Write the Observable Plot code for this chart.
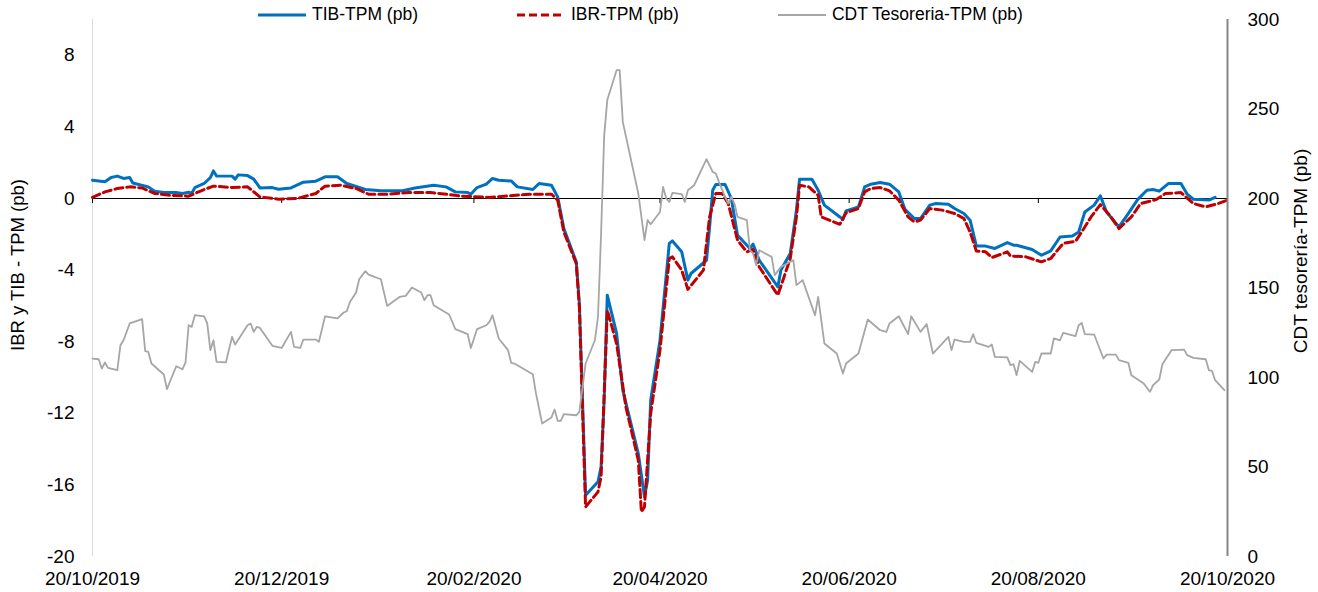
<!DOCTYPE html>
<html><head><meta charset="utf-8">
<script src="https://cdn.jsdelivr.net/npm/d3@7"></script>
<script src="https://cdn.jsdelivr.net/npm/@observablehq/plot@0.6"></script>
<style>
body{margin:0;background:#fff;font-family:"Liberation Sans",Arial,sans-serif;}
#wrap{position:relative;width:1318px;height:592px;overflow:hidden;}
#legend{position:absolute;top:4px;left:258px;display:flex;align-items:center;gap:99px;font-size:17.5px;line-height:20px;color:#000;white-space:nowrap;}
.item{display:flex;align-items:center;gap:6px;}
.item svg{display:block;}
.ytitle{position:absolute;white-space:nowrap;transform:translate(-50%,-50%) rotate(-90deg);color:#000;}
</style></head><body>
<div id="wrap"><div id="chart"></div><div id="legend"></div><div class="ytitle" id="tl"></div><div class="ytitle" id="tr"></div></div>
<script>
// Days elapsed since 20/10/2019 and values (pb)
const tibDay = [0,4,6,8,10,12,13,18,20,23,27,29,31,32,33,36,38,39,40,45,46,47,50,52,54,58,60,64,68,72,75,79,82,88,93,100,104,110,114,117,121,122,124,127,129,131,135,137,142,144,148,150,152,156,157,159,163,164,165,166,169,171,176,178,179,180,183,186,187,190,192,193,198,199,200,201,204,206,208,212,213,215,221,222,225,227,228,232,234,236,241,242,243,247,249,251,254,257,260,262,265,267,270,272,276,278,281,283,285,288,291,295,297,298,303,306,309,312,316,318,320,323,325,327,331,334,337,340,342,344,347,351,353,355,360,362];
const tibVal = [1.02,0.93,1.17,1.25,1.12,1.17,0.87,0.65,0.41,0.33,0.33,0.28,0.35,0.28,0.61,0.84,1.17,1.54,1.26,1.25,1.08,1.32,1.28,1.08,0.59,0.61,0.52,0.59,0.91,0.97,1.21,1.21,0.84,0.50,0.43,0.43,0.59,0.74,0.65,0.37,0.33,0.24,0.61,0.80,1.12,1.02,0.98,0.65,0.50,0.84,0.74,0.09,-1.68,-3.54,-5.87,-16.58,-15.83,-14.99,-11.27,-5.40,-7.54,-10.71,-14.25,-16.67,-15.74,-11.27,-7.92,-2.51,-2.37,-2.98,-4.56,-4.19,-3.45,-1.59,0.46,0.78,0.78,0,-2.05,-2.79,-2.55,-3.45,-4.94,-4.0,-3.07,-0.65,1.08,1.08,0.46,-0.37,-1.03,-1.17,-0.69,-0.47,0.65,0.80,0.89,0.80,0.37,-0.61,-1.12,-1.12,-0.37,-0.28,-0.32,-0.56,-0.84,-1.21,-2.65,-2.66,-2.79,-2.46,-2.61,-2.61,-2.85,-3.17,-2.93,-2.15,-2.09,-1.87,-0.75,-0.37,0.15,-0.75,-1.59,-0.84,-0.06,0.46,0.50,0.41,0.84,0.84,0.24,-0.04,-0.09,0.06];

const ibrDay = [0,4,8,12,16,20,25,31,35,39,45,50,54,60,66,72,75,80,85,89,95,102,109,115,119,128,130,141,148,150,152,156,157,159,163,164,166,169,172,176,177,178,180,183,186,187,190,192,197,199,201,203,205,208,211,213,215,221,223,225,227,228,231,234,235,241,243,247,249,251,254,257,260,263,265,267,270,274,278,281,283,285,288,290,295,296,301,306,309,313,317,319,322,325,328,331,335,338,343,346,351,355,359,363,366];
const ibrVal = [0.06,0.37,0.56,0.65,0.59,0.28,0.18,0.13,0.43,0.69,0.61,0.65,0.09,-0.04,0,0.28,0.69,0.74,0.56,0.24,0.24,0.33,0.33,0.22,0.13,0.06,0.09,0.24,0.24,-0.09,-1.87,-3.63,-6.06,-17.23,-16.39,-15.55,-6.24,-8.10,-11.64,-14.62,-17.51,-17.23,-12.0,-8.47,-3.35,-3.26,-4.0,-5.08,-4.0,-1.03,0.28,0.28,-0.28,-2.33,-2.98,-2.85,-3.82,-5.40,-4.38,-3.35,-1.03,0.74,0.65,0.18,-1.03,-1.44,-0.80,-0.56,0.37,0.56,0.61,0.43,-0.09,-1.03,-1.31,-1.21,-0.56,-0.65,-0.84,-1.12,-1.87,-2.93,-2.98,-3.30,-2.98,-3.21,-3.26,-3.54,-3.35,-2.51,-2.39,-1.87,-1.03,-0.34,-0.93,-1.68,-1.03,-0.28,-0.06,0.28,0.33,-0.28,-0.47,-0.28,-0.09];

const cdtDay = [0,2,3,4,5,8,9,10,12,16,17,18,19,23,24,27,29,30,31,32,33,36,37,38,39,40,43,45,46,50,51,52,53,54,58,61,64,65,67,68,72,73,75,79,81,82,83,85,86,88,89,93,95,99,101,103,106,107,108,109,110,115,117,121,122,124,127,128,129,131,134,135,136,142,143,145,148,149,150,151,152,156,157,159,162,163,164,165,166,169,170,171,176,178,179,180,183,184,185,186,187,190,191,192,194,198,200,201,202,204,205,206,207,208,211,212,213,214,215,219,220,222,226,227,229,233,234,236,240,242,243,247,250,254,256,257,260,263,264,267,269,271,276,277,278,281,283,284,285,289,290,291,295,296,297,298,299,303,304,305,306,309,310,312,313,317,318,319,320,323,326,327,330,331,334,335,339,341,342,344,345,348,352,353,355,359,360,361,362,365];
const cdtVal = [110.6,110.2,105.0,108.4,105.4,104.1,118.0,120.8,130.2,132.6,114.7,114.3,107.8,101.7,93.5,106.3,104.6,108.4,129.2,128.3,134.8,134.2,130.2,115.3,120.8,108.7,108.4,122.7,118.4,129.2,130.2,125.5,128.3,127.7,117.7,116.5,125.5,117.1,116.5,121.2,121.2,119.9,134.2,133.0,136.3,137.0,142.2,147.5,154.9,159.4,157.5,154.9,140.0,145.0,145.6,150.3,147.5,143.2,146.0,146.0,140.4,135.2,127.0,124.2,116.5,127.0,129.2,131.1,134.8,121.8,115.3,108.2,107.8,101.8,91.1,74.3,77.7,82.1,75.8,75.8,79.5,78.9,80.8,107.8,120.8,133.9,180,235,255,271.7,271.7,242.8,202.8,176.7,187.9,185.6,192.5,206.5,200,198.1,203.1,202.4,198.1,204.6,207.4,222.0,214.9,214.0,209.3,200.9,197.2,200.9,197.2,189.7,187.9,171.1,169.3,162.7,171.1,167.4,157.2,161.8,165.5,151.6,154.4,134.8,145.0,119.0,113.4,102.2,107.8,113.4,132.4,126.4,125.5,130.2,134.2,124.2,134.2,125.5,129.8,113.4,122.7,115.3,121.2,119.9,119.9,124.2,119.3,117.1,118.4,111.5,111.2,106.9,107.4,101.3,109.3,103.1,108.7,108.2,113.4,113.4,121.8,120.8,124.9,123.1,129.2,130.5,124.2,124.0,110.6,112.8,112.8,109.7,108.2,101.3,96.6,92.0,95.7,98.9,107.4,115.3,115.6,112.5,111.0,110.2,104.1,103.7,98.5,92.9];

const xTickLabels = ["20/10/2019","20/12/2019","20/02/2020","20/04/2020","20/06/2020","20/08/2020","20/10/2020"];
const leftTicks = [-20,-16,-12,-8,-4,0,4,8];
const rightTicks = [0,50,100,150,200,250,300];
const seriesNames = ["TIB-TPM (pb)","IBR-TPM (pb)","CDT Tesoreria-TPM (pb)"];
const leftTitle = "IBR y TIB - TPM (pb)";
const rightTitle = "CDT tesorería-TPM (pb)";

const parse = d3.utcParse("%d/%m/%Y");
const fmt = d3.utcFormat("%d/%m/%Y");
const start = parse(xTickLabels[0]);
const end = parse(xTickLabels[xTickLabels.length-1]);
const tickDates = xTickLabels.map(parse);
const toDate = d => d3.utcDay.offset(start, d);
// right axis (CDT) maps onto the left axis: left = (right - 200) / 10
const toLeft = c => (c - 200) / 10;
const fromLeft = v => Math.round(v * 10 + 200);

const tib = tibDay.map((d,i)=>({date: toDate(d), value: tibVal[i]}));
const ibr = ibrDay.map((d,i)=>({date: toDate(d), value: ibrVal[i]}));
const cdt = cdtDay.map((d,i)=>({date: toDate(d), value: toLeft(cdtVal[i])}));

const font = '"Liberation Sans", Arial, sans-serif';
const chart = Plot.plot({
  width: 1318, height: 592,
  marginLeft: 92, marginRight: 91, marginTop: 19, marginBottom: 36,
  x: {type: "utc", domain: [start, end], label: null},
  y: {domain: [-20, 10], label: null},
  style: {fontFamily: font, fontSize: "19px", color: "#000", background: "transparent", overflow: "visible"},
  marks: [
    Plot.ruleX([start], {stroke: "#d9d9d9", strokeWidth: 1}),
    Plot.ruleY([0], {stroke: "#000", strokeWidth: 1}),
    Plot.ruleX(tickDates, {y1: 0, y2: 0, insetBottom: -5, stroke: "#000", strokeWidth: 1}),
    Plot.lineY(tib, {x: "date", y: "value", stroke: "#0070C0", strokeWidth: 3}),
    Plot.lineY(ibr, {x: "date", y: "value", stroke: "#C00000", strokeWidth: 3, strokeDasharray: "8,4"}),
    Plot.lineY(cdt, {x: "date", y: "value", stroke: "#A6A6A6", strokeWidth: 1.8}),
    Plot.ruleX([end], {stroke: "#868686", strokeWidth: 2}),
    Plot.axisY(leftTicks, {anchor: "left", tickSize: 0, tickPadding: 18, tickFormat: d => String(d)}),
    Plot.axisY(rightTicks.map(toLeft), {anchor: "right", tickSize: 0, tickPadding: 20, tickFormat: v => String(fromLeft(v))}),
    Plot.axisX(tickDates, {anchor: "bottom", tickSize: 0, tickPadding: 15, tickFormat: fmt})
  ]
});
document.getElementById("chart").appendChild(chart);

// legend
const legend = document.getElementById("legend");
const swatches = [
  {color: "#0070C0", w: 3, dash: null},
  {color: "#C00000", w: 3, dash: "8,4"},
  {color: "#A6A6A6", w: 1.8, dash: null}
];
seriesNames.forEach((name, i) => {
  const s = swatches[i];
  const item = document.createElement("div");
  item.className = "item";
  item.innerHTML = `<svg width="48" height="8"><line x1="0" x2="48" y1="5" y2="5" stroke="${s.color}" stroke-width="${s.w}" ${s.dash ? `stroke-dasharray="${s.dash}"` : ""}/></svg><span>${name}</span>`;
  legend.appendChild(item);
});
const tl = document.getElementById("tl");
tl.textContent = leftTitle; tl.style.left = "18px"; tl.style.top = "265px"; tl.style.fontSize = "18.5px";
const tr = document.getElementById("tr");
tr.textContent = rightTitle; tr.style.left = "1301px"; tr.style.top = "251px"; tr.style.fontSize = "19px";
</script>
</body></html>
